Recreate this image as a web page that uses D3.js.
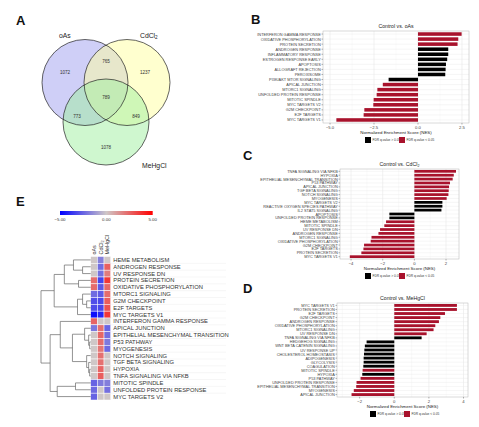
<!DOCTYPE html>
<html><head><meta charset="utf-8">
<script src="https://cdn.jsdelivr.net/npm/d3@7"></script>
<style>body{margin:0;background:#fff}svg{display:block}text{font-family:"Liberation Sans",Arial,sans-serif}</style>
</head><body><svg id="c" width="479" height="427"></svg>
<script>
// ---------- DATA ----------
const vennSets = ["oAs", "CdCl", "MeHgCl"];
const vennSetSub = ["", "2", ""];
// oAs only, CdCl2 only, MeHgCl only, oAs∩CdCl2, oAs∩MeHgCl, CdCl2∩MeHgCl, all three
const vennCounts = [1072, 1237, 1078, 765, 773, 849, 789];

const bCats = ["INTERFERON GAMMA RESPONSE","OXIDATIVE PHOSPHORYLATION","PROTEIN SECRETION","ANDROGEN RESPONSE","INFLAMMATORY RESPONSE","ESTROGEN RESPONSE EARLY","APOPTOSIS","ALLOGRAFT REJECTION","PEROXISOME","PI3K/AKT MTOR SIGNALING","APICAL JUNCTION","MTORC1 SIGNALING","UNFOLDED PROTEIN RESPONSE","MITOTIC SPINDLE","MYC TARGETS V2","G2M CHECKPOINT","E2F TARGETS","MYC TARGETS V1"];
const bVals = [2.48, 2.29, 2.25, 1.72, 1.72, 1.66, 1.59, 1.57, 1.55, -1.67, -2.0, -2.31, -2.35, -2.52, -2.54, -3.05, -3.09, -4.64];
const bSig  = [1,1,1,0,0,0,0,0,0,0,1,1,1,1,1,1,1,1];
const bTicks = [-5, -2.5, 0, 2.5];

const cCats = ["TNFA SIGNALING VIA NFKB","HYPOXIA","EPITHELIAL MESENCHYMAL TRANSITION","P53 PATHWAY","APICAL JUNCTION","TGF BETA SIGNALING","NOTCH SIGNALING","MYOGENESIS","MYC TARGETS V2","REACTIVE OXYGEN SPECIES PATHWAY","IL2 STAT5 SIGNALING","APOPTOSIS","UNFOLDED PROTEIN RESPONSE","HEME METABOLISM","MITOTIC SPINDLE","UV RESPONSE DN","ANDROGEN RESPONSE","MTORC1 SIGNALING","OXIDATIVE PHOSPHORYLATION","G2M CHECKPOINT","E2F TARGETS","PROTEIN SECRETION","MYC TARGETS V1"];
const cVals = [2.63, 2.49, 2.42, 2.25, 2.19, 2.17, 2.15, 2.04, 1.77, 1.77, 1.71, -1.58, -1.58, -1.79, -1.90, -2.17, -2.27, -2.71, -2.76, -3.18, -3.22, -3.35, -4.08];
const cSig  = [1,1,1,1,1,1,1,1,0,0,0,0,0,1,1,1,1,1,1,1,1,1,1];
const cTicks = [-4, -2, 0, 2];

const dCats = ["MYC TARGETS V1","PROTEIN SECRETION","E2F TARGETS","G2M CHECKPOINT","ANDROGEN RESPONSE","OXIDATIVE PHOSPHORYLATION","MTORC1 SIGNALING","UV RESPONSE DN","TNFA SIGNALING VIA NFKB","HEDGEHOG SIGNALING","WNT BETA CATENIN SIGNALING","UV RESPONSE UP","CHOLESTEROL HOMEOSTASIS","ADIPOGENESIS","GLYCOLYSIS","COAGULATION","MITOTIC SPINDLE","HYPOXIA","P53 PATHWAY","UNFOLDED PROTEIN RESPONSE","EPITHELIAL MESENCHYMAL TRANSITION","MYOGENESIS","APICAL JUNCTION"];
const dVals = [3.62, 3.62, 2.93, 2.66, 2.58, 2.37, 2.27, 1.87, 1.58, -1.60, -1.70, -1.73, -1.75, -1.77, -1.77, -1.79, -1.83, -1.85, -1.95, -2.18, -2.20, -2.34, -2.47];
const dSig  = [1,1,1,1,1,1,1,1,0,0,0,0,0,0,0,0,1,0,1,1,1,1,1];
const dTicks = [-2, 0, 2, 4];

const heatRows = ["HEME METABOLISM","ANDROGEN RESPONSE","UV RESPONSE DN","PROTEIN SECRETION","OXIDATIVE PHOSPHORYLATION","MTORC1 SIGNALING","G2M CHECKPOINT","E2F TARGETS","MYC TARGETS V1","INTERFERON GAMMA RESPONSE","APICAL JUNCTION","EPITHELIAL MESENCHYMAL TRANSITION","P53 PATHWAY","MYOGENESIS","NOTCH SIGNALING","TGF BETA SIGNALING","HYPOXIA","TNFA SIGNALING VIA NFKB","MITOTIC SPINDLE","UNFOLDED PROTEIN RESPONSE","MYC TARGETS V2"];
const heatCols = ["oAs", "CdCl", "MeHgCl"];
const heatOas  = [0, 0, 0, 2.25, 2.29, -2.31, -3.05, -3.09, -4.64, 2.48, -2.0, 0, 0, 0, 0, 0, 0, 0, -2.52, -2.35, -2.54];
const heatCd   = [-1.79, -2.27, -2.17, -3.35, -2.76, -2.71, -3.18, -3.22, -4.08, 0, 2.19, 2.42, 2.25, 2.04, 2.15, 2.17, 2.49, 2.63, -1.90, 0, 0];
const heatMe   = [0, 2.58, 1.87, 3.62, 2.37, 2.27, 2.66, 2.93, 3.62, 0, -2.47, -2.20, -1.95, -2.34, 0, 0, 0, 0, -1.83, -2.18, 0];
const heatTicks = [-5, 0, 5];
// hclust-style merge list (negative = leaf index, positive = earlier merge) and heights
const dendroMerge = [[-7,-8],[-6,1],[-2,-3],[-4,-5],[-1,3],[2,-9],[5,4],[7,6],
  [-13,-14],[-12,9],[-11,10],[-17,-18],[-16,12],[-15,13],[11,14],[-10,15],[-19,-20],[17,-21],[16,18],[8,19]];
const dendroHeight = [4,8,8,12,17,13,26,36, 1,2,6,1,2,4,18,30,15,33,40,49];

// ---------- DRAW ----------
const svg = d3.select("#c");
const RED = "#a8122c";

function letter(t, x, y){ svg.append("text").attr("x",x).attr("y",y).attr("font-size",13).attr("font-weight","bold").attr("fill","#111").text(t); }
letter("A",16,25); letter("B",251,24); letter("C",243,160); letter("D",243,293); letter("E",16,206);

// Venn
(function(){
  const g = svg.append("g");
  const r = 43, cx = 106, cy = 82.5, dx = 21, dy = 39.5;
  const centers = [[cx-dx,cy],[cx+dx,cy],[cx,cy+dy]];
  const fills = ["#a0a0f0","#ffffa0","#a0f0a0"];
  centers.forEach((c,i)=> g.append("circle").attr("cx",c[0]).attr("cy",c[1]).attr("r",r)
      .attr("fill",fills[i]).attr("fill-opacity",0.5));
  centers.forEach((c,i)=> g.append("circle").attr("cx",c[0]).attr("cy",c[1]).attr("r",r)
      .attr("fill","none").attr("stroke","#222").attr("stroke-width",0.7));
  const gc = [cx, cy+dy/3+1];
  const off = [[-41,-24],[39,-24],[0,51],[0,-35],[-29,20],[30,20],[0,1]];
  vennCounts.forEach((v,i)=> g.append("text").attr("x",gc[0]+off[i][0]).attr("y",gc[1]+off[i][1])
      .attr("text-anchor","middle").attr("dominant-baseline","central").attr("font-size",4.6).attr("fill","#333").text(v));
  const lp = [[cx-dx-26,cy-45,"start"],[cx+dx+13,cy-45,"start"],[cx+36,cy+dy+46,"start"]];
  vennSets.forEach((s,i)=>{
    const t = g.append("text").attr("x",lp[i][0]).attr("y",lp[i][1]).attr("font-size",6.8).attr("fill","#222").text(s);
    if (vennSetSub[i]) t.append("tspan").attr("font-size",4.6).attr("dy",1.6).text(vennSetSub[i]);
  });
})();

// Bar panels
function barPanel(cats, vals, sig, ticks, fmt, box, title, titleSub, legendX){
  const [x0,x1,y0,y1,dmin,dmax] = box;
  const g = svg.append("g");
  const x = d3.scaleLinear().domain([dmin,dmax]).range([x0,x1]);
  const y = d3.scalePoint().domain(cats).range([y0,y1]).padding(0.6);
  const step = y.step();
  g.append("rect").attr("x",x0).attr("y",y0).attr("width",x1-x0).attr("height",y1-y0).attr("fill","#fff");
  const minor = [];
  for (let i=0;i<ticks.length-1;i++) minor.push((ticks[i]+ticks[i+1])/2);
  minor.push(ticks[0]-(ticks[1]-ticks[0])/2, ticks[ticks.length-1]+(ticks[1]-ticks[0])/2);
  g.selectAll(".mn").data(minor.filter(v=>v>dmin&&v<dmax)).enter().append("line")
    .attr("x1",d=>x(d)).attr("x2",d=>x(d)).attr("y1",y0).attr("y2",y1).attr("stroke","#f2f2f2").attr("stroke-width",0.4);
  g.selectAll(".mj").data(ticks).enter().append("line")
    .attr("x1",d=>x(d)).attr("x2",d=>x(d)).attr("y1",y0).attr("y2",y1).attr("stroke","#e3e3e3").attr("stroke-width",0.5);
  g.selectAll(".hg").data(cats).enter().append("line")
    .attr("x1",x0).attr("x2",x1).attr("y1",d=>y(d)).attr("y2",d=>y(d)).attr("stroke","#e8e8e8").attr("stroke-width",0.4);
  const bh = step*0.7;
  g.selectAll(".bar").data(cats).enter().append("rect")
    .attr("x",(d,i)=>Math.min(x(0),x(vals[i]))).attr("width",(d,i)=>Math.abs(x(vals[i])-x(0)))
    .attr("y",d=>y(d)-bh/2).attr("height",bh).attr("fill",(d,i)=>sig[i]?RED:"#000");
  g.append("rect").attr("x",x0).attr("y",y0).attr("width",x1-x0).attr("height",y1-y0)
    .attr("fill","none").attr("stroke","#b5b5b5").attr("stroke-width",0.5);
  // y axis
  g.selectAll(".yt").data(cats).enter().append("line").attr("x1",x0-1.5).attr("x2",x0)
    .attr("y1",d=>y(d)).attr("y2",d=>y(d)).attr("stroke","#444").attr("stroke-width",0.4);
  g.selectAll(".yl").data(cats).enter().append("text").attr("x",x0-2.2).attr("y",d=>y(d))
    .attr("text-anchor","end").attr("dominant-baseline","central").attr("font-size",3.9).attr("fill","#444").text(d=>d);
  // x axis
  g.selectAll(".xt").data(ticks).enter().append("line").attr("x1",d=>x(d)).attr("x2",d=>x(d))
    .attr("y1",y1).attr("y2",y1+1.5).attr("stroke","#444").attr("stroke-width",0.4);
  g.selectAll(".xl").data(ticks).enter().append("text").attr("x",d=>x(d)).attr("y",y1+5.5)
    .attr("text-anchor","middle").attr("font-size",4.2).attr("fill","#444").text(fmt);
  g.append("text").attr("x",(x0+x1)/2).attr("y",y1+10.5).attr("text-anchor","middle").attr("font-size",4.4)
    .attr("fill","#222").text("Normalized Enrichment Score (NES)");
  const t = g.append("text").attr("x",(x0+x1)/2).attr("y",y0-3).attr("text-anchor","middle").attr("font-size",5.2).attr("fill","#222").text(title);
  if (titleSub) { t.append("tspan").attr("font-size",3.6).attr("dy",1.2).text(titleSub); }
  // legend
  const ly = y1 + 17;
  const lg = g.append("g").attr("transform",`translate(${legendX},${ly})`);
  lg.append("rect").attr("x",0).attr("y",-3).attr("width",6).attr("height",6).attr("fill","#000");
  lg.append("text").attr("x",7.5).attr("y",0).attr("dominant-baseline","central").attr("font-size",3.2).attr("fill","#333").text("FDR q-value > 0.05");
  lg.append("rect").attr("x",34).attr("y",-3).attr("width",6).attr("height",6).attr("fill",RED);
  lg.append("text").attr("x",41.5).attr("y",0).attr("dominant-baseline","central").attr("font-size",3.2).attr("fill","#333").text("FDR q-value < 0.05");
}
barPanel(bCats,bVals,bSig,bTicks,d3.format(".1f"),[323,469,31,123,-5.4,2.9],"Control vs. oAs","",365);
barPanel(cCats,cVals,cSig,cTicks,d3.format("d"),[340,459,169,259,-4.7,2.82],"Control vs. CdCl","2",365);
barPanel(dCats,dVals,dSig,dTicks,d3.format("d"),[337,468,303,397,-3.31,4.26],"Control vs. MeHgCl","",370);

// Heatmap
(function(){
  const g = svg.append("g");
  const hx0 = 90.7, hx1 = 110.7, hy0 = 256.5, hy1 = 400;
  const xb = d3.scaleBand().domain(heatCols).range([hx0,hx1]);
  const yb = d3.scaleBand().domain(heatRows).range([hy0,hy1]);
  const col = d3.scaleLinear().domain([-5,0,5]).range(["#0000ff","#cfc7c7","#ff0000"]);
  const cols = [heatOas, heatCd, heatMe];
  // row separator lines
  g.selectAll(".sep").data(heatRows.slice(1)).enter().append("line")
    .attr("x1",hx1).attr("x2",226).attr("y1",d=>yb(d)).attr("y2",d=>yb(d)).attr("stroke","#ececec").attr("stroke-width",0.5);
  heatCols.forEach((c,j)=>{
    g.selectAll(".c"+j).data(heatRows).enter().append("rect")
      .attr("x",xb(c)).attr("y",d=>yb(d)).attr("width",xb.bandwidth()).attr("height",yb.bandwidth())
      .attr("fill",(d,i)=>col(cols[j][i])).attr("stroke","#fff").attr("stroke-width",0.5);
  });
  g.selectAll(".rl").data(heatRows).enter().append("text").attr("x",113.3).attr("y",d=>yb(d)+yb.bandwidth()/2)
    .attr("dominant-baseline","central").attr("font-size",5.8).attr("fill","#333").text(d=>d);
  heatCols.forEach((c,j)=>{
    const t = g.append("text").attr("transform",`translate(${xb(c)+xb.bandwidth()/2+1.8},${hy0-2}) rotate(-90)`)
      .attr("font-size",5.4).attr("fill","#333").text(c);
    if (c==="CdCl") t.append("tspan").attr("font-size",3.8).attr("dy",1.2).text("2");
  });
  // colour bar
  const cb = d3.scaleLinear().domain([-5,5]).range([60,152.7]);
  const grad = svg.append("defs").append("linearGradient").attr("id","cg");
  [-5,-2.5,0,2.5,5].forEach(v=> grad.append("stop").attr("offset",((v+5)/10*100)+"%").attr("stop-color",col(v)));
  g.append("rect").attr("x",cb(-5)).attr("y",211).attr("width",cb(5)-cb(-5)).attr("height",4).attr("fill","url(#cg)");
  g.selectAll(".cbl").data(heatTicks).enter().append("text").attr("x",d=>cb(d)).attr("y",220.5)
    .attr("text-anchor","middle").attr("font-size",4.4).attr("fill","#333").text(d3.format(".2f"));
  // dendrogram
  const hx = d3.scaleLinear().domain([0,49]).range([hx0,41]);
  const pos = []; // per merge: [x, y]
  const leafPos = i => [hx0, yb(heatRows[i-1]) + yb.bandwidth()/2];
  const getPos = k => k < 0 ? leafPos(-k) : pos[k-1];
  dendroMerge.forEach((m,i)=>{
    const a = getPos(m[0]), b = getPos(m[1]);
    const nx = hx(dendroHeight[i]);
    pos.push([nx,(a[1]+b[1])/2]);
    const p = d3.path();
    p.moveTo(a[0],a[1]); p.lineTo(nx,a[1]); p.lineTo(nx,b[1]); p.lineTo(b[0],b[1]);
    g.append("path").attr("d",p.toString()).attr("fill","none").attr("stroke","#666").attr("stroke-width",0.7);
  });
})();
</script></body></html>
